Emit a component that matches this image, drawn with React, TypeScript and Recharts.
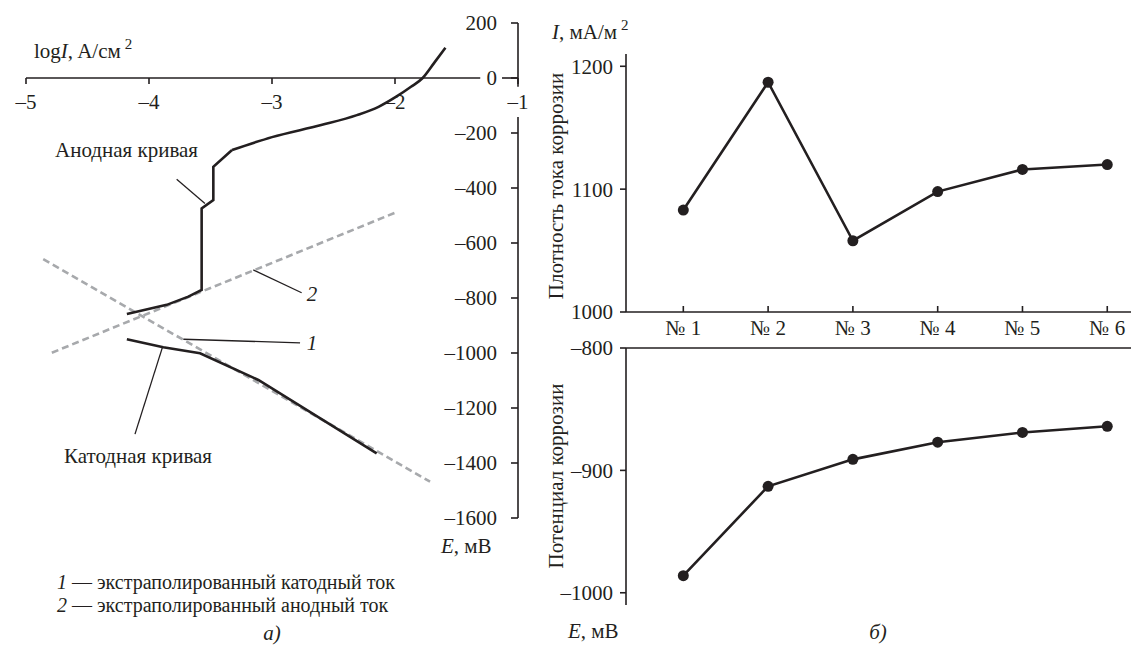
import React from 'react';
import { LineChart, Line, XAxis, YAxis, ReferenceLine } from 'recharts';

const FONT = "'Liberation Serif', 'Times New Roman', 'DejaVu Serif', serif";
const INK = '#231f20';
const GRAY = '#a7a9ac';

// ---------- left chart (polarization curves) ----------
const logITicks = [-5, -4, -3, -2, -1];
const potentialTicks = [200, 0, -200, -400, -600, -800, -1000, -1200, -1400, -1600];

const anodicLower = [
  { x: -4.18, y: -858 },
  { x: -3.856, y: -825 },
  { x: -3.68, y: -795 },
  { x: -3.572, y: -771 },
  { x: -3.572, y: -474 },
  { x: -3.477, y: -444 },
  { x: -3.477, y: -323 },
  { x: -3.325, y: -262 },
];
const anodicUpper = [
  { x: -3.325, y: -262 },
  { x: -3.0, y: -215 },
  { x: -2.6, y: -171 },
  { x: -2.31, y: -135 },
  { x: -2.13, y: -104 },
  { x: -1.99, y: -68 },
  { x: -1.87, y: -32 },
  { x: -1.775, y: 0 },
  { x: -1.68, y: 56 },
  { x: -1.59, y: 110 },
];
const cathodic = [
  { x: -4.18, y: -950 },
  { x: -3.884, y: -979 },
  { x: -3.585, y: -1001 },
  { x: -3.111, y: -1098 },
  { x: -2.149, y: -1365 },
];
const extrapCathodic = [
  { x: -4.86, y: -659 },
  { x: -1.715, y: -1468 },
];
const extrapAnodic = [
  { x: -4.79, y: -999 },
  { x: -2.0, y: -490 },
];

// ---------- right charts ----------
const samples = ['№ 1', '№ 2', '№ 3', '№ 4', '№ 5', '№ 6'];
const samplePos = [1, 2, 3, 4, 5, 6];
const currentDensity = [1083, 1187, 1058, 1098, 1116, 1120];
const corrosionPotential = [-986, -913, -891, -877, -869, -864];
const densityTicks = [1000, 1100, 1200];
const potentialTicksRight = [-1000, -900, -800];

const densityData = samplePos.map((p, i) => ({ pos: p, value: currentDensity[i] }));
const potentialData = samplePos.map((p, i) => ({ pos: p, value: corrosionPotential[i] }));

const minus = (v: number) => (v < 0 ? '–' + Math.abs(v) : String(v));
const tickFont = { fontFamily: FONT, fontSize: 21, fill: INK, style: { fontFamily: FONT } };
const axisStroke = { stroke: INK, strokeWidth: 1.6 };

const SampleTick = (props: any) => {
  const { x, y, payload } = props;
  return (
    <g>
      <line x1={x} y1={y} x2={x} y2={y - 6} stroke={INK} strokeWidth={1.6} />
      <text x={x} y={y + 23} textAnchor="middle" fontSize={21} fill={INK} style={{ fontFamily: FONT }}>
        {samples[payload.value - 1]}
      </text>
    </g>
  );
};

const leader = { stroke: INK, strokeWidth: 1.3 };

export default function App() {
  return (
    <div style={{ position: 'absolute', left: 0, top: 0, width: 1131, height: 646, background: '#fff', overflow: 'hidden', fontFamily: FONT }}>
      {/* Left: curves */}
      <div style={{ position: 'absolute', left: 0, top: 0 }}>
        <LineChart width={560} height={646} margin={{ top: 23, right: 42, bottom: 128, left: 26 }} style={{ fontFamily: FONT }}>
          <XAxis dataKey="x" type="number" domain={[-5, -1]} hide />
          <YAxis
            orientation="right"
            mirror
            type="number"
            domain={[-1600, 200]}
            ticks={potentialTicks}
            interval={0}
            axisLine={false}
            tickLine={axisStroke}
            tickSize={7}
            tickMargin={14}
            tick={tickFont}
            tickFormatter={minus}
          />
          {/* axis lines (broken around the "0" and "–1" labels) */}
          <ReferenceLine segment={[{ x: -1, y: 200 }, { x: -1, y: -32 }]} {...axisStroke} />
          <ReferenceLine segment={[{ x: -1, y: -142 }, { x: -1, y: -1600 }]} {...axisStroke} />
          <ReferenceLine segment={[{ x: -5, y: 0 }, { x: -1.307, y: 0 }]} {...axisStroke} />
          <ReferenceLine segment={[{ x: -1.13, y: 0 }, { x: -1, y: 0 }]} {...axisStroke} />
          {/* leader lines */}
          <ReferenceLine segment={[{ x: -3.775, y: -368 }, { x: -3.545, y: -456 }]} {...leader} />
          <ReferenceLine segment={[{ x: -3.889, y: -977 }, { x: -4.114, y: -1295 }]} {...leader} />
          <ReferenceLine segment={[{ x: -3.152, y: -698 }, { x: -2.759, y: -781 }]} {...leader} />
          <ReferenceLine segment={[{ x: -3.721, y: -950 }, { x: -2.772, y: -963 }]} {...leader} />
          <Line data={extrapCathodic} dataKey="y" type="linear" stroke={GRAY} strokeWidth={2.6} strokeDasharray="7 4" dot={false} isAnimationActive={false} />
          <Line data={extrapAnodic} dataKey="y" type="linear" stroke={GRAY} strokeWidth={2.6} strokeDasharray="7 4" dot={false} isAnimationActive={false} />
          <Line data={anodicLower} dataKey="y" type="linear" stroke={INK} strokeWidth={2.6} dot={false} isAnimationActive={false} />
          <Line data={anodicUpper} dataKey="y" type="monotone" stroke={INK} strokeWidth={2.6} dot={false} isAnimationActive={false} />
          <Line data={cathodic} dataKey="y" type="linear" stroke={INK} strokeWidth={2.6} dot={false} isAnimationActive={false} />
        </LineChart>
      </div>

      {/* Left: logI axis ticks at E = 0 */}
      <div style={{ position: 'absolute', left: 0, top: 0 }}>
        <LineChart width={560} height={120} data={logITicks.map((v) => ({ x: v }))} margin={{ top: 0, right: 42, bottom: 0, left: 26 }} style={{ fontFamily: FONT }}>
          <XAxis
            dataKey="x"
            type="number"
            domain={[-5, -1]}
            ticks={logITicks}
            interval={0}
            height={42}
            axisLine={false}
            tickLine={axisStroke}
            tickSize={6}
            tickMargin={10}
            tick={tickFont}
            tickFormatter={minus}
          />
          <YAxis hide domain={[0, 1]} />
        </LineChart>
      </div>

      {/* Right top: corrosion current density */}
      <div style={{ position: 'absolute', left: 540, top: 0 }}>
        <LineChart width={591} height={346} data={densityData} margin={{ top: 54, right: 0, bottom: 0, left: 0 }} style={{ fontFamily: FONT }}>
          <XAxis
            dataKey="pos"
            type="number"
            domain={[0.324, 6.28]}
            ticks={samplePos}
            interval={0}
            height={34}
            axisLine={axisStroke}
            tickLine={false}
            tickSize={0}
            tickMargin={0}
            tick={<SampleTick />}
          />
          <YAxis
            type="number"
            domain={[1000, 1210]}
            ticks={densityTicks}
            interval={0}
            width={86}
            axisLine={axisStroke}
            tickLine={axisStroke}
            tickSize={6}
            tickMargin={7}
            tick={tickFont}
          />
          <Line dataKey="value" type="linear" stroke={INK} strokeWidth={2.6} dot={{ r: 5.5, fill: INK, stroke: INK, strokeWidth: 0 }} isAnimationActive={false} />
        </LineChart>
      </div>

      {/* Right bottom: corrosion potential */}
      <div style={{ position: 'absolute', left: 540, top: 300 }}>
        <LineChart width={591} height={346} data={potentialData} margin={{ top: 48, right: 0, bottom: 41, left: 0 }} style={{ fontFamily: FONT }}>
          <XAxis
            dataKey="pos"
            type="number"
            orientation="top"
            mirror
            domain={[0.324, 6.28]}
            ticks={samplePos}
            interval={0}
            axisLine={axisStroke}
            tickLine={axisStroke}
            tickSize={6}
            tick={false}
          />
          <YAxis
            type="number"
            domain={[-1010, -800]}
            ticks={potentialTicksRight}
            interval={0}
            width={86}
            axisLine={axisStroke}
            tickLine={axisStroke}
            tickSize={6}
            tickMargin={7}
            tick={tickFont}
            tickFormatter={minus}
          />
          <Line dataKey="value" type="linear" stroke={INK} strokeWidth={2.6} dot={{ r: 5.5, fill: INK, stroke: INK, strokeWidth: 0 }} isAnimationActive={false} />
        </LineChart>
      </div>

      {/* Texts */}
      <svg width={1131} height={646} style={{ position: 'absolute', left: 0, top: 0, pointerEvents: 'none', fontFamily: FONT }} fill={INK} fontSize={21}>
        <text x={34} y={58}>
          log<tspan fontStyle="italic">I</tspan>, A/см<tspan dx={4} dy={-9} fontSize={15}>2</tspan>
        </text>
        <text x={55} y={157}>Анодная кривая</text>
        <text x={64} y={463}>Катодная кривая</text>
        <text x={312} y={301} textAnchor="middle" fontStyle="italic">2</text>
        <text x={312} y={350} textAnchor="middle" fontStyle="italic">1</text>
        <text x={441} y={553}>
          <tspan fontStyle="italic">E</tspan>, мВ
        </text>
        <text x={57} y={589} fontSize={20}>
          <tspan fontStyle="italic">1</tspan> — экстраполированный катодный ток
        </text>
        <text x={57} y={612} fontSize={20}>
          <tspan fontStyle="italic">2</tspan> — экстраполированный анодный ток
        </text>
        <text x={272} y={640} textAnchor="middle" fontStyle="italic">а)</text>

        <text x={552} y={39}>
          <tspan fontStyle="italic">I</tspan>, мА/м<tspan dx={4} dy={-9} fontSize={15}>2</tspan>
        </text>
        <text x={563} y={186} textAnchor="middle" transform="rotate(-90 563 186)">Плотность тока коррозии</text>
        <text x={563} y={476} textAnchor="middle" transform="rotate(-90 563 476)">Потенциал коррозии</text>
        <text x={568} y={638}>
          <tspan fontStyle="italic">E</tspan>, мВ
        </text>
        <text x={878} y={639} textAnchor="middle" fontStyle="italic">б)</text>
      </svg>
    </div>
  );
}
